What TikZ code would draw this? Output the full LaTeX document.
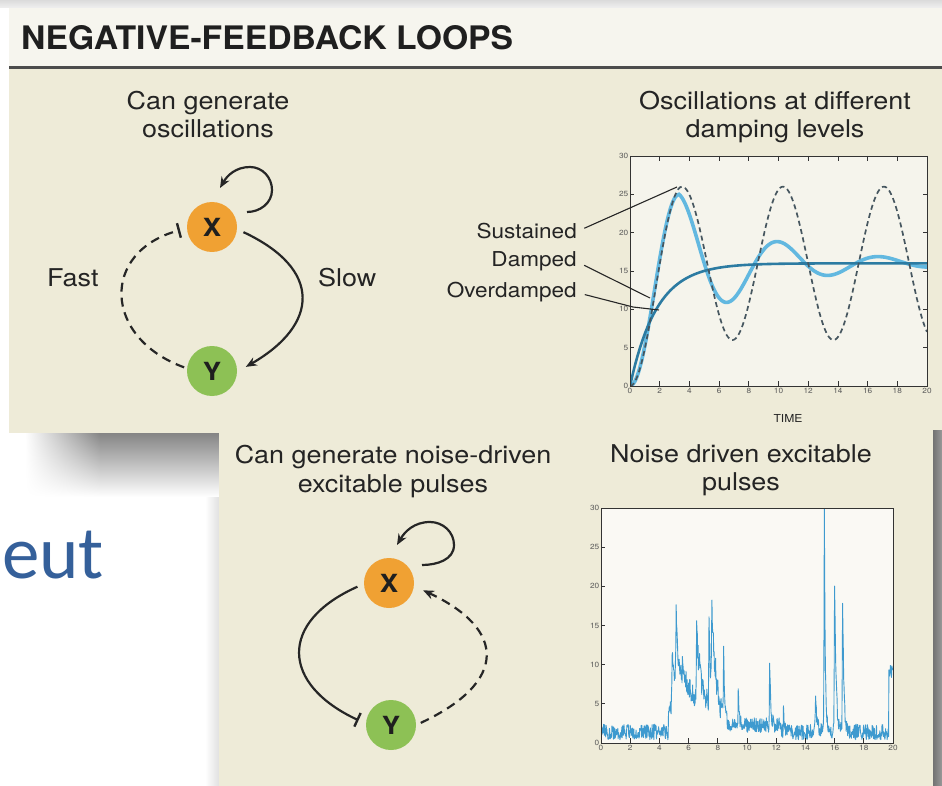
\documentclass[tikz,border=0pt]{standalone}
\usepackage{fontspec}
\usepackage{graphicx}
\newfontfamily\hv[FakeStretch=1.1]{TeX Gyre Heros}
\newfontfamily\calb{Carlito}
\usetikzlibrary{arrows.meta,calc,shadings}
\definecolor{beige}{HTML}{EEEBD8}
\definecolor{hdr}{HTML}{F6F5EE}
\definecolor{xorange}{HTML}{F0A133}
\definecolor{ygreen}{HTML}{8DC155}
\definecolor{ink}{HTML}{262626}
\definecolor{txt}{HTML}{242424}
\definecolor{blueT}{HTML}{35609A}
\definecolor{damp}{HTML}{62B8E0}
\definecolor{odamp}{HTML}{2C7BA2}
\definecolor{sust}{HTML}{46565F}
\definecolor{noisec}{HTML}{3E9ACF}
\definecolor{plotbg}{HTML}{F5F4EC}
\definecolor{plotbgb}{HTML}{FAF9F4}
\tikzset{
  lbl/.style={font=\hv\fontsize{24.5}{28}\selectfont, text=txt, inner sep=0pt},
  small/.style={font=\hv\fontsize{20.5}{24}\selectfont, text=txt, inner sep=0pt},
  tick/.style={font=\hv\fontsize{7.5}{8}\selectfont, text=black!65, inner sep=1.5pt},
  gene/.style={circle, minimum size=50pt, inner sep=0pt, font=\hv\bfseries\fontsize{25}{25}\selectfont, text=black!88},
  act/.style={draw=ink, line width=2.2pt, -{Stealth[length=11pt,width=9pt]}},
  inh/.style={draw=ink, line width=2.2pt, -{Bar[width=15pt,line width=2.4pt]}},
  dsh/.style={dash pattern=on 9pt off 6pt},
  ptr/.style={draw=black!85, line width=1.1pt},
  axis/.style={draw=black!80, line width=0.8pt},
}
\begin{document}
\begin{tikzpicture}[x=1pt,y=-1pt,
  declare function={
    S(\qt,\qa,\qb,\qr,\qd)=\qb*exp(-min(max(min(\qt-\qa,0)/\qr,-3)*max(min(\qt-\qa,0)/\qr,-3)+min(max(\qt-\qa,0)/\qd,9),9));
    N(\qt)=0.4+2.0*rnd+(\qt>4.8)*(\qt<8.3)*2.2*rnd+3*(\qt>4.62)*(\qt<4.9)+(\qt<8.4)*S(\qt,4.9,7.5,0.04,1.6)+S(\qt,5.15,7.5,0.03,0.12)+S(\qt,5.6,2.5,0.05,0.3)+S(\qt,6.55,10.5,0.03,0.16)+S(\qt,6.75,2.5,0.05,0.5)+S(\qt,7.4,10.5,0.03,0.12)+S(\qt,7.6,10.5,0.04,0.3)+S(\qt,8.4,9,0.02,0.06)+0.9*(\qt>8.3)*(\qt<12.3)+S(\qt,9.4,5,0.02,0.06)+S(\qt,11.55,8,0.02,0.07)+S(\qt,12.5,2.5,0.02,0.08)+S(\qt,14.7,4,0.05,0.1)+S(\qt,15.3,28.5,0.03,0.06)+S(\qt,16,19,0.03,0.1)+S(\qt,16.55,17.5,0.03,0.08)+7.5*(\qt>19.72);
  }]
\useasboundingbox (0,0) rectangle (942,786);
\fill[white] (0,0) rectangle (942,786);
\shade[top color=black!14, bottom color=black!6] (0,0) rectangle (942,8);

% top panel
\fill[beige] (9,8) rectangle (942,433);
\fill[hdr] (9,8) rectangle (942,67);
\draw[line width=2.5pt, draw=black!70] (9,67.5) -- (942,67.5);
% shadow under top panel
\shade[top color=black!48, bottom color=white] (100,433) rectangle (219,497);
\shade[upper left=white, upper right=black!48, lower left=white, lower right=white] (25,433) rectangle (100,497);
\shade[left color=white, right color=black!12] (205,497) rectangle (219,786);

% bottom panel
\fill[beige] (219,430) rectangle (933,786);
\shade[left color=black!55, right color=black!40] (933,430) rectangle (942,786);

% blue slide text
\node[anchor=base west, inner sep=0pt, font=\calb\fontsize{75}{80}\selectfont, text=blueT] (eut) at (2,578) {eut};

% title
\node[anchor=south west, inner sep=0pt, text=black!88] (title) at (21,50) {\resizebox{492pt}{24pt}{\hv\bfseries NEGATIVE-FEEDBACK LOOPS}};

% ---------- top-left network ----------
\node[lbl, anchor=base] (c1a) at (208,110) {Can generate};
\node[lbl, anchor=base] (c1b) at (208,138) {oscillations};
\node[lbl, anchor=base west] (fast) at (47,287) {Fast};
\node[lbl, anchor=base west] (slow) at (318,287) {Slow};
\node[gene, fill=xorange] (X1) at (212,227) {X};
\node[gene, fill=ygreen] (Y1) at (212,371) {Y};
\draw[act] ($(X1)+(35,-15)$) to[out=0,in=-90] ($(X1)+(60,-37)$) to[out=90,in=0] ($(X1)+(38,-60)$) to[out=180,in=60] ($(X1)+(8,-39)$);
\draw[act, shorten <=7pt, shorten >=10pt] (X1.-5) to[out=-25,in=30,looseness=1.7] (Y1.-2);
\draw[inh, dsh, shorten <=3pt, shorten >=7pt] (Y1.174) to[out=160,in=195,looseness=1.64] (X1.183);

% ---------- top-right chart ----------
\node[lbl, anchor=base] (c2a) at (775,110) {Oscillations at different};
\node[lbl, anchor=base] (c2b) at (775,138) {damping levels};
\begin{scope}[shift={(630,386)}, x=14.85pt, y=7.667pt]
  \fill[plotbg] (0,0) rectangle (20,30);
  \begin{scope}
    \clip (0,0) rectangle (20,30);
    \draw[damp, line width=3.6pt] plot[domain=0:3.3, samples=30] (\x,{12.5-12.5*cos(180*\x/3.3)}) -- plot[domain=3.3:20, samples=200] (\x,{16+9*exp(-(\x-3.3)/5.8)*cos(360*(\x-3.3)/6.8)});
    \draw[odamp, line width=2.6pt] plot[domain=0:20, samples=120] (\x,{16*(1-exp(-\x/1.8))});
    \draw[sust, line width=1.7pt, dash pattern=on 5pt off 3.5pt] plot[domain=0:3.5, samples=30] (\x,{13-13*cos(180*\x/3.5)}) -- plot[domain=3.5:20, samples=220] (\x,{16+10*cos(360*(\x-3.5)/6.8)});
  \end{scope}
  \draw[axis] (0,0) rectangle (20,30);
  \foreach \v in {0,5,...,30} {
    \draw[axis] (0,\v) -- ++(0.3,0);
    \draw[axis] (20,\v) -- ++(-0.3,0);
    \node[tick, anchor=east] (tya\v) at (0,\v) {\v};
  }
  \foreach \t in {0,2,...,20} {
    \draw[axis] (\t,0) -- ++(0,0.6);
    \draw[axis] (\t,30) -- ++(0,-0.6);
    \node[tick, anchor=north] (txa\t) at (\t,0) {\t};
  }
\end{scope}
\node[font=\hv\fontsize{11}{12}\selectfont, text=txt, anchor=base, inner sep=0pt] (time) at (788,422) {TIME};
\node[small, anchor=base east] (sus) at (577,239) {Sustained};
\node[small, anchor=base east] (dam) at (577,267) {Damped};
\node[small, anchor=base east] (odm) at (577,298) {Overdamped};
\coordinate (susP) at (677,187);
\coordinate (damP) at (650,298);
\coordinate (odmM) at (633,307);
\coordinate (odmP) at (659,310);
\draw[ptr, shorten <=8pt] (sus.east) -- (susP);
\draw[ptr, shorten <=8pt] (dam.east) -- (damP);
\draw[ptr, shorten <=8pt] (odm.east) -- (odmM) -- (odmP);

% ---------- bottom-left network ----------
\node[lbl, anchor=base] (c3a) at (393,463) {Can generate noise-driven};
\node[lbl, anchor=base] (c3b) at (393,492) {excitable pulses};
\node[gene, fill=xorange] (X2) at (389,583) {X};
\node[gene, fill=ygreen] (Y2) at (391,725) {Y};
\draw[act] ($(X2)+(33,-18)$) to[out=0,in=-90] ($(X2)+(65,-38)$) to[out=90,in=0] ($(X2)+(41,-61)$) to[out=180,in=60] ($(X2)+(8,-38)$);
\draw[inh, shorten <=7pt, shorten >=8pt] (X2.182) to[out=204,in=155,looseness=1.71] (Y2.177);
\draw[act, dsh, shorten <=5pt, shorten >=10pt] (Y2.0) to[out=25,in=-25,looseness=1.87] (X2.-7);

% ---------- bottom-right chart ----------
\node[lbl, anchor=base] (c4a) at (741,462) {Noise driven excitable};
\node[lbl, anchor=base] (c4b) at (741,490) {pulses};
\begin{scope}[shift={(601,743)}, x=14.6pt, y=7.833pt]
  \fill[plotbgb] (0,0) rectangle (20,30);
  \begin{scope}
    \clip (0,0) rectangle (20,30);
    \pgfmathsetseed{7}
    \draw[noisec, line width=0.9pt, line join=round] plot[domain=0:20, samples=801] (\x,{N(\x)});
  \end{scope}
  \draw[axis] (0,0) rectangle (20,30);
  \foreach \v in {0,5,...,30} {
    \draw[axis] (0,\v) -- ++(0.3,0);
    \node[tick, anchor=east] (tyb\v) at (0,\v) {\v};
  }
  \foreach \t in {0,2,...,20} {
    \draw[axis] (\t,0) -- ++(0,0.6);
    \node[tick, anchor=north] (txb\t) at (\t,0) {\t};
  }
\end{scope}
\end{tikzpicture}
\end{document}
